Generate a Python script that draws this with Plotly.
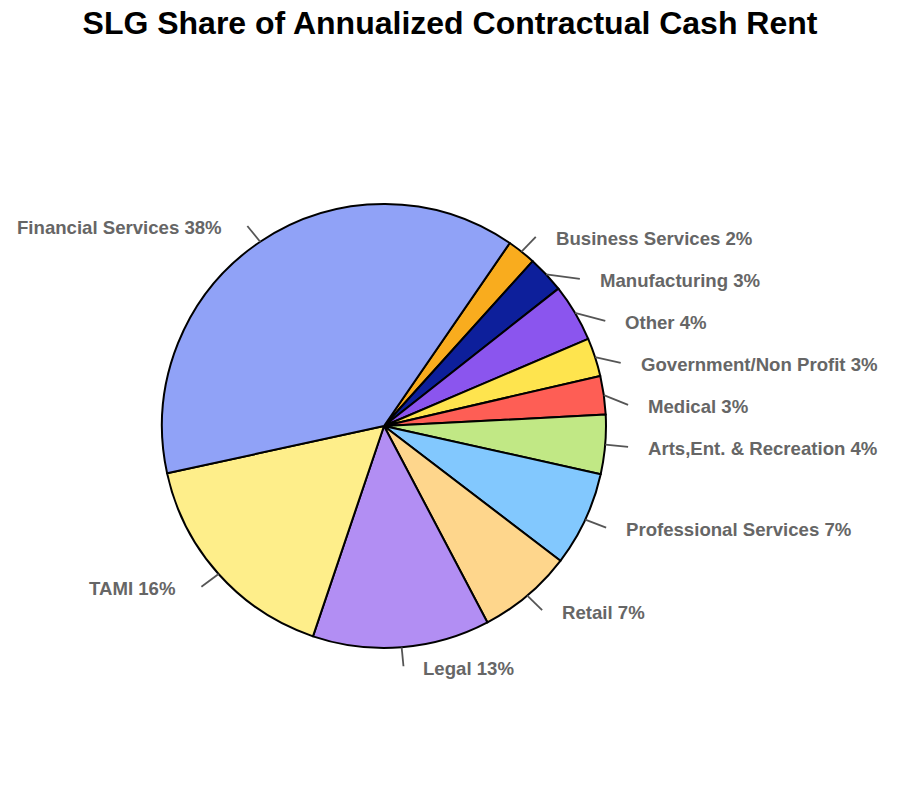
import math
import plotly.graph_objects as go

# ---- data ----
categories = ["Business Services", "Manufacturing", "Other", "Government/Non Profit",
              "Medical", "Arts,Ent. & Recreation", "Professional Services", "Retail",
              "Legal", "TAMI", "Financial Services"]
shares = [2.1, 2.7, 4.2, 2.8, 2.8, 4.3, 6.9, 6.9, 12.9, 16.4, 38.0]
colors = ["#F9AC1E", "#0D1F9B", "#8B55EE", "#FEE44E", "#FE5E55", "#C1E885",
          "#82C8FE", "#FED68C", "#B28EF3", "#FEEE8A", "#90A2F7"]
title_text = "SLG Share of Annualized Contractual Cash Rent"

# ---- layout geometry (pixels) ----
W, H = 900, 800
CX, CY, R = 384, 426, 222
START = 34.5          # start angle of first slice, degrees clockwise from 12 o'clock
RX, RY = 245, 241     # label anchor ellipse
GAP = 42              # min vertical spacing of labels
PAD_RIGHT, PAD_LEFT = 18, 23

fig = go.Figure(go.Pie(
    labels=categories, values=shares, sort=False, direction="clockwise",
    rotation=START, marker=dict(colors=colors, line=dict(color="black", width=2)),
    textinfo="none", hoverinfo="label+percent", showlegend=False,
    domain=dict(x=[(CX - R) / W, (CX + R) / W], y=[1 - (CY + R) / H, 1 - (CY - R) / H]),
))

total = sum(shares)
items = []
acc = 0.0
for name, v in zip(categories, shares):
    mid = START + (acc + v / 2) / total * 360
    acc += v
    a = math.radians(mid)
    s, c = math.sin(a), math.cos(a)
    items.append(dict(name=name, pct=round(v / total * 100), s=s, c=c,
                      right=s >= 0,
                      x=CX + RX * s, y=CY - RY * c,
                      x0=CX + R * s, y0=CY - R * c))

# simple vertical de-overlap on each side
for side in (True, False):
    grp = sorted([it for it in items if it["right"] == side], key=lambda d: d["y"])
    for i in range(1, len(grp)):
        if grp[i]["y"] < grp[i - 1]["y"] + GAP:
            grp[i]["y"] = grp[i - 1]["y"] + GAP
            dy = grp[i]["y"] - CY
            dx = math.sqrt(max(RX ** 2 - dy ** 2, 0))
            grp[i]["x"] = CX + (dx if side else -dx)

shapes = []
annotations = []
for it in items:
    shapes.append(dict(type="line", xref="paper", yref="paper",
                       x0=it["x0"] / W, y0=1 - it["y0"] / H,
                       x1=it["x"] / W, y1=1 - it["y"] / H,
                       line=dict(color="#555555", width=1.8)))
    tx = it["x"] + (PAD_RIGHT if it["right"] else -PAD_LEFT)
    annotations.append(dict(xref="paper", yref="paper", x=tx / W, y=1 - (it["y"] + 2) / H,
                            text=f"<b>{it['name']} {it['pct']}%</b>", showarrow=False,
                            xanchor="left" if it["right"] else "right", yanchor="middle",
                            font=dict(family="Liberation Sans, Arial, sans-serif",
                                      size=18.6, color="#666666")))

fig.update_layout(
    width=W, height=H, margin=dict(l=0, r=0, t=0, b=0),
    paper_bgcolor="white", plot_bgcolor="white",
    title=dict(text=f"<b>{title_text}</b>", x=0.5, xanchor="center", y=1 - 23 / H,
               yanchor="middle", yref="container",
               font=dict(family="Liberation Sans, Arial", size=32, color="black")),
    shapes=shapes, annotations=annotations,
)

fig.write_html("out.html")
